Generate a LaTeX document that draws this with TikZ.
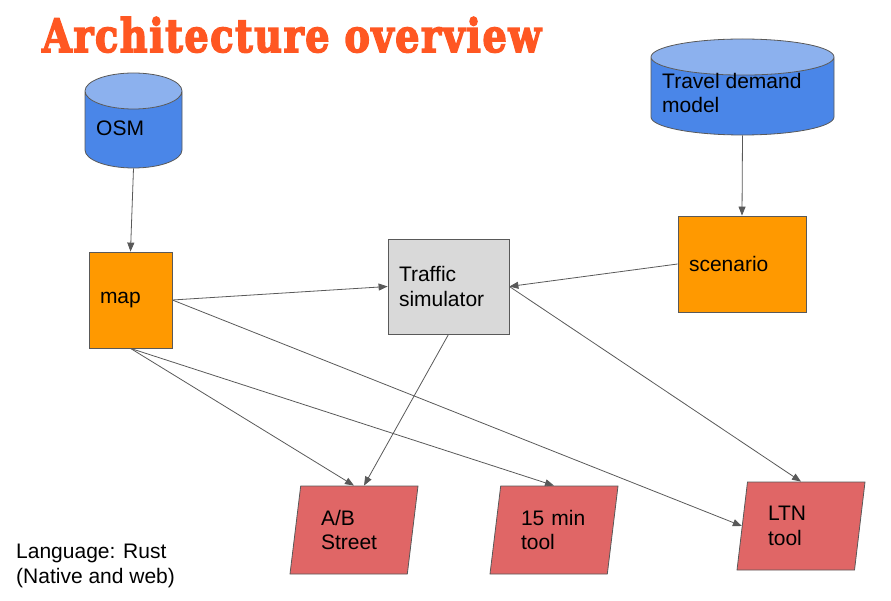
\documentclass[tikz,border=0pt]{standalone}
\usepackage{graphicx}
\usepackage{fontspec}
\setmainfont{Liberation Sans}
\newfontfamily\titlefont{DejaVu Serif}[UprightFont={* Bold}, FakeBold=3.5, LetterSpace=4]
\usetikzlibrary{calc}
\usetikzlibrary{arrows.meta}
\usetikzlibrary{shapes.geometric}

\definecolor{dbblue}{HTML}{4A86E8}
\definecolor{dbtop}{HTML}{8CB1EE}
\definecolor{boxorange}{HTML}{FF9900}
\definecolor{simgray}{HTML}{D9D9D9}
\definecolor{toolred}{HTML}{E06666}
\definecolor{edgegray}{HTML}{595959}
\definecolor{titleorange}{HTML}{FF5722}

\begin{document}
\begin{tikzpicture}[x=1pt,y=1pt,
  txt/.style={font=\fontsize{21}{24.5}\selectfont, align=left, inner sep=0pt},
  db/.style={cylinder, shape border rotate=90, draw=edgegray, line width=0.8pt, inner sep=0pt,
    anchor=shape center, cylinder uses custom fill, cylinder body fill=dbblue, cylinder end fill=dbtop},
  box/.style={txt, rectangle, draw=edgegray, line width=0.8pt},
  tool/.style={txt, trapezium, trapezium left angle=75, trapezium right angle=105,
    trapezium stretches body, draw=edgegray, fill=toolred, line width=0.8pt,
    minimum width=128pt, minimum height=88pt, text width=66pt},
  link/.style={draw=edgegray, line width=0.8pt, -{Triangle[length=9pt,width=7pt]}}]
\useasboundingbox (0,0) rectangle (891,-601);

\node[anchor=base west, inner sep=0pt, text=titleorange] (title) at (42,-52)
  {\resizebox{499pt}{35pt}{\titlefont Architecture overview}};

% data sources
\node[db, minimum width=97pt, minimum height=95pt, text width=75pt, aspect=0.48] (osm) at (133.5,-120.5) {};
\node[txt, anchor=west] (osmlabel) at (96,-128) {OSM};
\node[db, minimum width=183pt, minimum height=96pt, text width=161pt, aspect=0.224] (demand) at (742.5,-87) {};
\node[txt, anchor=west] (demandlabel) at (662,-93) {Travel demand\\model};

\node[box, fill=boxorange, minimum width=83pt, minimum height=96pt, text width=61pt] (map) at (130.5,-300) {map};
\node[box, fill=simgray, minimum width=121pt, minimum height=95pt, text width=99pt] (sim) at (448.5,-286.5) {Traffic\\simulator};
\node[box, fill=boxorange, minimum width=128pt, minimum height=96pt, text width=106pt] (scenario) at (742,-264) {scenario};

% tools
\node[tool] (ab) at (354,-530) {A/B\\Street};
\node[tool] (fifteen) at (554,-530) {15 min\\tool};
\node[tool] (ltn) at (801,-526) {LTN\\tool};

\node[txt, anchor=west] (lang) at (16,-566) {Language: Rust\\(Native and web)};

\foreach \a/\b in {osm.south/map.north, demand.south/scenario.north, map.east/sim.west,
  scenario.west/sim.east, map.south/ab.north, map.south/fifteen.north, sim.east/ltn.north}
  \draw[link] (\a) -- (\b);
\draw[link] (sim.south) -- ([xshift=10pt]ab.north);
\draw[link] (map.east) -- ($(ltn.bottom left corner)!0.5!(ltn.top left corner)$);

\end{tikzpicture}
\end{document}
